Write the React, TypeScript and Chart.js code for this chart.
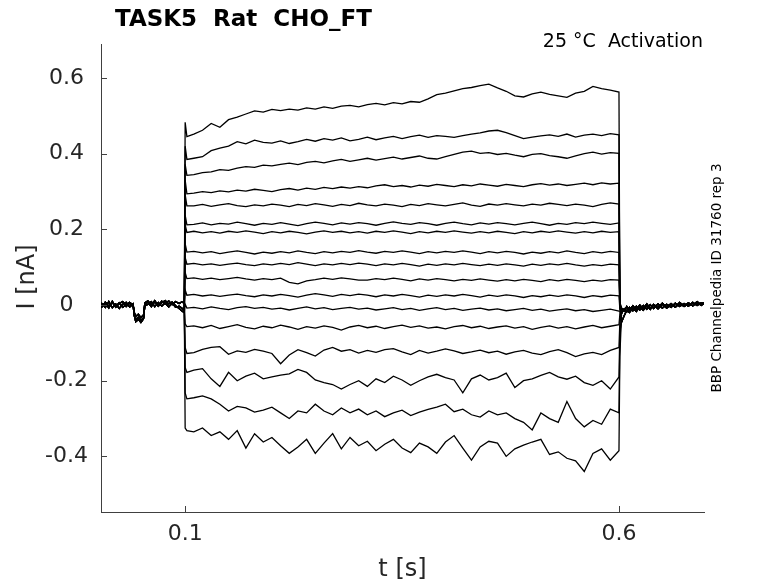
import { useEffect, useRef } from 'react';
import Chart from 'chart.js/auto';

const preTimes = [
  0, 0.004, 0.008, 0.012, 0.016, 0.02, 0.024, 0.028, 0.032, 0.036,
  0.04, 0.0415, 0.043, 0.046, 0.049, 0.052, 0.0535, 0.057, 0.061, 0.065,
  0.069, 0.073, 0.077, 0.081, 0.085, 0.089, 0.093, 0.096, 0.099,
];
const baseA = [
  6, -5, 8, -3, 7, -6, 4, 9, -4, 5,
  -2, -30, -38, -32, -40, -34, 2, 8, -4, 9,
  -2, 10, 3, 11, 1, 9, 4, 8, 6,
];
const baseB = [
  -8, 4, -6, 9, -7, 3, -9, 2, 7, -5,
  3, -26, -44, -38, -46, -36, -3, 2, 9, -4,
  7, -3, 6, -5, 5, -6, -3, -8, -14,
];
const baseC = [
  9, -2, 5, -8, 10, -4, 6, -6, 1, 7,
  0, -20, -30, -24, -33, -26, 6, 11, 1, 12,
  -3, 6, 12, 3, 8, -2, -9, -15, -20,
];

const stepTimes = [
  0.11, 0.12, 0.13, 0.14, 0.15, 0.16, 0.17, 0.18, 0.19, 0.2,
  0.21, 0.22, 0.23, 0.24, 0.25, 0.26, 0.27, 0.28, 0.29, 0.3,
  0.31, 0.32, 0.33, 0.34, 0.35, 0.36, 0.37, 0.38, 0.39, 0.4,
  0.41, 0.42, 0.43, 0.44, 0.45, 0.46, 0.47, 0.48, 0.49, 0.5,
  0.51, 0.52, 0.53, 0.54, 0.55, 0.56, 0.57, 0.58, 0.59, 0.6,
];

const onsetPeak = [483, 420, 372, 330, 292, 238, 212, 162, 126, 86, 40, 2, -50, -112, -165, -232, -325];
const onsetSettle = [445, 385, 343, 294, 262, 212, 192, 140, 108, 70, 26, -8, -57, -128, -178, -248, -332];

const sweep01 = [
  452, 462, 480, 470, 490, 497, 505, 513, 510, 517,
  514, 518, 515, 521, 518, 524, 520, 526, 528, 524,
  530, 533, 529, 535, 532, 538, 536, 545, 556, 560,
  566, 572, 575, 580, 584, 574, 565, 553, 550, 558,
  563, 557, 553, 549, 560, 565, 578, 572, 568, 563,
];
const sweep02 = [
  388, 392, 408, 415, 420, 432, 426, 436, 430, 428,
  434, 427, 432, 438, 433, 440, 436, 442, 434, 438,
  444, 437, 442, 446, 440, 445, 449, 443, 448, 446,
  443, 448, 452, 455, 460, 462, 456, 448, 440, 444,
  447, 450, 446, 452, 444, 449, 452, 448, 453, 450,
];
const sweep03 = [
  345, 350, 352, 358, 356, 362, 366, 364, 370, 368,
  372, 375, 371, 377, 380, 376, 381, 385, 380, 384,
  388, 383, 387, 391, 386, 390, 394, 388, 386, 392,
  398, 404, 407, 401, 403, 398, 401, 396, 392, 398,
  400, 395, 392, 388, 394, 400, 404, 399, 403, 401,
];
const sweep04 = [
  296, 300, 297, 302, 299, 304, 301, 306, 303, 300,
  305, 308, 304, 309, 306, 311, 308, 312, 309, 313,
  310, 315, 318, 313, 316, 312, 317, 314, 319, 316,
  313, 318, 315, 320, 317, 314, 319, 316, 313, 318,
  321, 317, 320, 316, 319, 322, 318, 323, 320, 322,
];
const sweep05 = [
  262, 266, 261, 265, 268, 263, 260, 265, 262, 267,
  264, 260, 266, 263, 268, 265, 261, 266, 263, 269,
  265, 262, 267, 264, 260, 266, 263, 268, 265, 262,
  266, 270, 264, 261, 267, 264, 268, 265, 262, 267,
  264, 269, 266, 263, 267, 264, 260, 266, 270, 267,
];
const sweep06 = [
  213, 217, 212, 216, 214, 219, 215, 211, 216, 213,
  218, 214, 210, 215, 219, 216, 212, 217, 214, 218,
  215, 211, 216, 220, 216, 213, 218, 215, 211, 216,
  219, 215, 212, 217, 214, 218, 215, 212, 216, 219,
  215, 211, 216, 213, 218, 215, 219, 216, 213, 217,
];
const sweep07 = [
  195, 191, 194, 190, 195, 192, 196, 193, 189, 194,
  191, 195, 192, 188, 193, 196, 192, 195, 191, 194,
  190, 195, 192, 196, 193, 189, 194, 191, 195, 192,
  196, 193, 190, 194, 191, 195, 192, 189, 194, 191,
  195, 192, 196, 193, 190, 194, 191, 195, 192, 194,
];
const sweep08 = [
  142, 138, 141, 136, 140, 143, 139, 135, 140, 137,
  141, 138, 143, 139, 136, 141, 138, 142, 139, 144,
  140, 137, 142, 139, 143, 140, 136, 141, 138, 142,
  139, 143, 140, 136, 141, 138, 142, 139, 135, 140,
  137, 141, 138, 143, 139, 136, 141, 138, 142, 139,
];
const sweep09 = [
  110, 106, 109, 105, 108, 111, 107, 104, 109, 106,
  110, 107, 112, 108, 104, 109, 106, 110, 107, 111,
  108, 104, 109, 106, 110, 107, 103, 108, 105, 109,
  106, 110, 107, 104, 108, 105, 109, 106, 103, 108,
  105, 109, 106, 110, 106, 103, 107, 104, 108, 106,
];
const sweep10 = [
  72, 68, 71, 67, 70, 73, 69, 66, 70, 67,
  71, 60, 56, 64, 67, 71, 68, 72, 69, 66,
  66, 70, 67, 71, 68, 64, 69, 66, 70, 67,
  64, 68, 65, 69, 66, 63, 67, 64, 68, 65,
  62, 67, 64, 68, 65, 62, 66, 63, 67, 66,
];
const sweep11 = [
  28, 24, 27, 23, 26, 29, 25, 22, 27, 24,
  28, 25, 21, 26, 30, 27, 23, 28, 25, 29,
  26, 22, 27, 24, 28, 25, 21, 26, 23, 27,
  24, 28, 25, 21, 26, 23, 27, 24, 20, 25,
  22, 26, 23, 27, 24, 20, 25, 22, 26, 24,
];
const sweep12 = [
  -6, -10, -5, -9, -12, -7, -4, -9, -6, -11,
  -8, -13, -9, -5, -10, -7, -12, -9, -6, -11,
  -8, -13, -10, -7, -12, -9, -14, -10, -7, -12,
  -9, -14, -11, -8, -13, -10, -15, -12, -9, -14,
  -11, -16, -13, -10, -15, -12, -17, -14, -11, -16,
];
const sweep13 = [
  -55, -60, -54, -62, -57, -52, -59, -63, -56, -60,
  -53, -58, -64, -57, -61, -55, -59, -66, -58, -54,
  -60, -56, -62, -57, -53, -59, -55, -61, -58, -63,
  -57, -54, -60, -56, -62, -58, -55, -61, -57, -64,
  -59, -55, -61, -57, -63, -58, -54, -60, -56, -52,
];
const sweep14 = [
  -126, -117, -112, -110, -130, -121, -125, -117, -122, -128,
  -155, -132, -118, -126, -135, -119, -112, -122, -118, -127,
  -120, -125, -118, -115, -124, -131, -120, -127, -122, -116,
  -121, -128, -124, -119, -126, -122, -130, -124, -120, -127,
  -131, -123, -118, -126, -136, -129, -125, -131, -120, -112,
];
const sweep15 = [
  -172, -168, -195, -215, -178, -200, -188, -180, -195, -190,
  -185, -182, -170, -178, -198, -205, -210, -222, -210, -200,
  -215, -195, -205, -188, -198, -212, -200, -190, -183, -192,
  -198, -232, -195, -185, -198, -192, -180, -218, -200, -195,
  -186, -178, -190, -196, -188, -205, -212, -200, -222, -190,
];
const sweep16 = [
  -245, -240, -248, -262, -280, -268, -272, -283, -278, -270,
  -285, -300, -280, -285, -262, -280, -290, -272, -285, -275,
  -290, -280, -295, -285, -278, -292, -283, -276, -270, -262,
  -282, -275, -290, -296, -280, -290, -285, -300, -310, -330,
  -285, -300, -310, -255, -300, -322, -305, -315, -275, -285,
];
const sweep17 = [
  -335, -325, -345, -335, -355, -332, -378, -340, -362, -350,
  -372, -392, -375, -355, -392, -365, -340, -380, -350, -372,
  -360, -385, -368, -355, -378, -390, -365, -375, -392, -362,
  -345, -378, -410, -375, -360, -365, -400, -380, -370, -362,
  -355, -395, -388, -405, -412, -440, -392, -380, -410, -385,
];

const tailStart = [8, 6, 5, 4, 2, 1, 0, -2, -4, -6, -10, -16, -25, -45, -70, -100, -135];
const tailTimes = [
  0.603, 0.606, 0.609, 0.612, 0.616, 0.62, 0.624, 0.628, 0.632, 0.636,
  0.64, 0.645, 0.65, 0.655, 0.66, 0.665, 0.67, 0.675, 0.68, 0.685,
  0.69, 0.695, 0.7,
];
const tailA = [
  -8, -16, -4, -14, -2, -12, 0, -10, 3, -9,
  2, -7, 5, -6, 4, -5, 7, -3, 6, -2,
  9, 0, 8,
];
const tailB = [
  -22, -10, -18, -6, -15, -3, -13, -1, -11, 1,
  -9, 3, -8, 2, -6, 5, -4, 4, -3, 7,
  -1, 6, 2,
];
const tailC = [
  -45, -28, -14, -20, -8, -17, -5, -14, -2, -12,
  0, -10, 2, -8, 1, -6, 4, -4, 3, -2,
  6, -1, 10,
];

const xTicks = [0.1, 0.6];
const yTicks = [-0.4, -0.2, 0, 0.2, 0.4, 0.6];

const titleText = 'TASK5  Rat  CHO_FT';
const conditionText = '25 °C  Activation';
const sideNote = 'BBP Channelpedia ID 31760 rep 3';
const xLabel = 't [s]';
const yLabel = 'I [nA]';

const sweeps = [
  sweep01, sweep02, sweep03, sweep04, sweep05, sweep06, sweep07, sweep08, sweep09,
  sweep10, sweep11, sweep12, sweep13, sweep14, sweep15, sweep16, sweep17,
];
const baselines = [baseA, baseB, baseC];
const tails = [tailA, tailB, tailC];

const FONT = '"DejaVu Sans", sans-serif';
const AXIS_COLOR = '#404040';
const TICK_COLOR = '#262626';

const decorPlugin = {
  id: 'decor',
  afterDraw(chart: Chart) {
    const { ctx, chartArea, scales } = chart;
    ctx.save();

    // MATLAB-style tick marks pointing into the axes
    ctx.strokeStyle = AXIS_COLOR;
    ctx.lineWidth = 1;
    yTicks.forEach((v) => {
      const y = Math.round(scales.y.getPixelForValue(v)) + 0.5;
      ctx.beginPath();
      ctx.moveTo(chartArea.left, y);
      ctx.lineTo(chartArea.left + 6, y);
      ctx.stroke();
    });
    xTicks.forEach((v) => {
      const x = Math.round(scales.x.getPixelForValue(v)) + 0.5;
      ctx.beginPath();
      ctx.moveTo(x, chartArea.bottom);
      ctx.lineTo(x, chartArea.bottom - 6);
      ctx.stroke();
    });

    ctx.fillStyle = '#000';
    ctx.textBaseline = 'alphabetic';
    ctx.font = `bold 23px ${FONT}`;
    ctx.textAlign = 'left';
    ctx.fillText(titleText, 115, 26);

    ctx.font = `19px ${FONT}`;
    ctx.textAlign = 'right';
    ctx.fillText(conditionText, 703, 47);

    ctx.fillStyle = TICK_COLOR;
    ctx.font = `24px ${FONT}`;
    ctx.textAlign = 'center';
    ctx.fillText(xLabel, (chartArea.left + chartArea.right) / 2, 576);

    ctx.save();
    ctx.translate(28, 277);
    ctx.rotate(-Math.PI / 2);
    ctx.textBaseline = 'middle';
    ctx.fillText(yLabel, 0, 0);
    ctx.restore();

    ctx.save();
    ctx.translate(717, 278);
    ctx.rotate(-Math.PI / 2);
    ctx.fillStyle = '#000';
    ctx.font = `13.5px ${FONT}`;
    ctx.textAlign = 'center';
    ctx.textBaseline = 'middle';
    ctx.fillText(sideNote, 0, 0);
    ctx.restore();

    ctx.restore();
  },
};

export default function App() {
  const canvasRef = useRef<HTMLCanvasElement>(null);
  const chartRef = useRef<Chart | null>(null);

  useEffect(() => {
    document.body.style.margin = '0';
    if (!canvasRef.current) return;

    const datasets = sweeps.map((sweep, i) => {
      const base = baselines[i % 3];
      const tail = tails[i % 3];
      const points: { x: number; y: number }[] = [];
      preTimes.forEach((t, k) => points.push({ x: t, y: base[k] / 1000 }));
      points.push({ x: 0.1, y: onsetPeak[i] / 1000 });
      points.push({ x: 0.102, y: onsetSettle[i] / 1000 });
      stepTimes.forEach((t, k) => points.push({ x: t, y: sweep[k] / 1000 }));
      points.push({ x: 0.601, y: tailStart[i] / 1000 });
      tailTimes.forEach((t, k) => points.push({ x: t, y: tail[k] / 1000 }));
      return {
        label: `sweep ${i + 1}`,
        data: points,
        borderColor: '#000',
        borderWidth: 1.3,
        pointRadius: 0,
        tension: 0,
        fill: false,
      };
    });

    chartRef.current = new Chart(canvasRef.current, {
      type: 'line',
      data: { datasets },
      options: {
        animation: false,
        responsive: true,
        maintainAspectRatio: false,
        layout: { padding: { left: 0, right: 74, top: 44, bottom: 0 } },
        plugins: {
          legend: { display: false },
          tooltip: { enabled: false },
          title: { display: false },
        },
        scales: {
          x: {
            type: 'linear',
            min: 0.003,
            max: 0.698,
            grid: { display: false, drawTicks: false },
            border: { display: true, color: AXIS_COLOR, width: 1 },
            ticks: {
              font: { family: FONT, size: 22 },
              color: TICK_COLOR,
              padding: 9,
              maxRotation: 0,
              callback: (v) => String(v),
            },
            afterBuildTicks: (scale) => {
              scale.ticks = xTicks.map((value) => ({ value }));
            },
            afterFit: (scale) => {
              scale.height = 71;
            },
          },
          y: {
            type: 'linear',
            min: -0.547,
            max: 0.69,
            grid: { display: false, drawTicks: false },
            border: { display: true, color: AXIS_COLOR, width: 1 },
            ticks: {
              font: { family: FONT, size: 22 },
              color: TICK_COLOR,
              padding: 13,
              crossAlign: 'center',
              callback: (v) => String(v),
            },
            afterBuildTicks: (scale) => {
              scale.ticks = yTicks.map((value) => ({ value }));
            },
            afterFit: (scale) => {
              scale.width = 101;
            },
          },
        },
      },
      plugins: [decorPlugin],
    });

    return () => {
      if (chartRef.current) {
        chartRef.current.destroy();
        chartRef.current = null;
      }
    };
  }, []);

  return (
    <div style={{ width: 778, height: 583, position: 'relative', background: '#fff' }}>
      <canvas ref={canvasRef} />
    </div>
  );
}
